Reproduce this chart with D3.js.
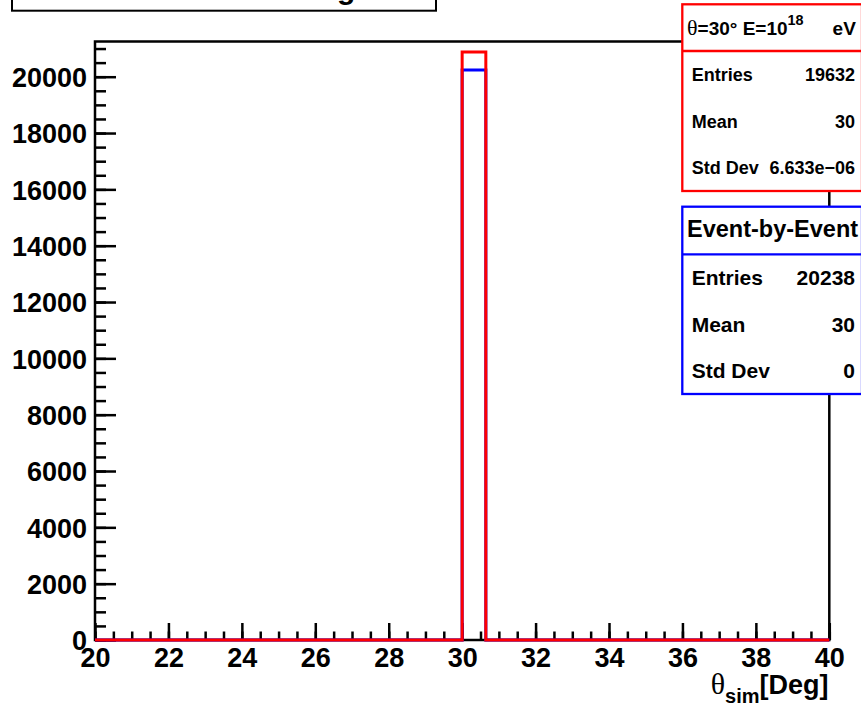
<!DOCTYPE html>
<html>
<head>
<meta charset="utf-8">
<script src="https://cdn.jsdelivr.net/npm/d3@7/dist/d3.min.js"></script>
<style>
  body { margin: 0; background: #fff; }
  svg { display: block; font-family: "Liberation Sans", Arial, Helvetica, sans-serif; font-weight: bold; }
</style>
</head>
<body>
<svg id="chart" width="861" height="706"></svg>
<script>
// histogram bins (edges) and bin contents
const binEdges = [20, 30, 30.645, 40];
const eventByEvent = [0, 20238, 0];
const averaged = [0, 20880, 0];

const xTicks = [20, 22, 24, 26, 28, 30, 32, 34, 36, 38, 40];
const yTicks = [0, 2000, 4000, 6000, 8000, 10000, 12000, 14000, 16000, 18000, 20000];
const xDomain = [20, 40];
const yDomain = [0, 21250];

const redStats = [["Entries", "19632"], ["Mean", "30"], ["Std Dev", "6.633e\u221206"]];
const blueStats = [["Entries", "20238"], ["Mean", "30"], ["Std Dev", "0"]];

const svg = d3.select("#chart");

const x = d3.scaleLinear().domain(xDomain).range([95, 829.3]);
const y = d3.scaleLinear().domain(yDomain).range([640, 41.5]);

// title box (mostly off the top of the canvas)
svg.append("rect")
  .attr("x", 12).attr("y", -50).attr("width", 424).attr("height", 60.7)
  .attr("fill", "#fff").attr("stroke", "#000").attr("stroke-width", 2);
svg.append("text")
  .attr("x", 48).attr("y", -1)
  .attr("font-size", 30)
  .text("Simulated Zenith Angle");

// minor ticks
svg.append("g")
  .attr("transform", "translate(0,640)")
  .call(d3.axisBottom(x).tickValues(d3.range(20, 40.001, 0.5)).tickSize(-8.5).tickFormat(""))
  .call(g => g.select(".domain").remove())
  .call(g => g.selectAll("line").attr("stroke-width", 2.5));
svg.append("g")
  .attr("transform", "translate(95,0)")
  .call(d3.axisLeft(y).tickValues(d3.range(0, 21001, 500)).tickSize(-11).tickFormat(""))
  .call(g => g.select(".domain").remove())
  .call(g => g.selectAll("line").attr("stroke-width", 2.5));

// major ticks + labels
const xAxis = svg.append("g")
  .attr("transform", "translate(0,640)")
  .call(d3.axisBottom(x).tickValues(xTicks).tickSize(-17).tickPadding(8).tickFormat(d3.format("d")))
  .call(g => g.select(".domain").remove());
xAxis.selectAll("line").attr("stroke-width", 2.5);
xAxis.selectAll("text")
  .attr("font-size", 27).attr("fill", "#000");
xAxis.attr("font-family", null).attr("font-size", null);

const yAxis = svg.append("g")
  .attr("transform", "translate(95,0)")
  .call(d3.axisLeft(y).tickValues(yTicks).tickSize(-21).tickPadding(8).tickFormat(d3.format("d")))
  .call(g => g.select(".domain").remove());
yAxis.selectAll("line").attr("stroke-width", 2.5);
yAxis.selectAll("text")
  .attr("font-size", 27).attr("dy", "0.36em").attr("fill", "#000");
yAxis.attr("font-family", null).attr("font-size", null);

// frame
svg.append("rect")
  .attr("x", x(xDomain[0])).attr("y", y(yDomain[1]))
  .attr("width", x(xDomain[1]) - x(xDomain[0]))
  .attr("height", y(yDomain[0]) - y(yDomain[1]))
  .attr("fill", "none").attr("stroke", "#000").attr("stroke-width", 2.5);

// histograms as step outlines
const step = d3.line()
  .x(d => x(d.x))
  .y(d => y(d.y))
  .curve(d3.curveStepAfter);

function histPoints(counts) {
  return binEdges.map((e, i) => ({ x: e, y: i < counts.length ? counts[i] : 0 }));
}

svg.append("path")
  .attr("d", step(histPoints(eventByEvent)))
  .attr("fill", "none").attr("stroke", "#0000ff").attr("stroke-width", 3);
svg.append("path")
  .attr("d", step(histPoints(averaged)))
  .attr("fill", "none").attr("stroke", "#ff0000").attr("stroke-width", 3);

// stats boxes
function statsBox(opt) {
  const g = svg.append("g");
  g.append("rect")
    .attr("x", opt.x0).attr("y", opt.y0)
    .attr("width", opt.x1 - opt.x0).attr("height", opt.y1 - opt.y0)
    .attr("fill", "#fff").attr("stroke", opt.color).attr("stroke-width", 2.3);
  g.append("line")
    .attr("x1", opt.x0).attr("x2", opt.x1)
    .attr("y1", opt.sep).attr("y2", opt.sep)
    .attr("stroke", opt.color).attr("stroke-width", 2.3);
  const rowH = (opt.y1 - opt.sep) / opt.rows.length;
  opt.rows.forEach((r, i) => {
    const by = opt.sep + (i + 0.5) * rowH + 0.37 * opt.fs;
    g.append("text").attr("x", 691.7).attr("y", by).attr("font-size", opt.fs).text(r[0]);
    g.append("text").attr("x", 855).attr("y", by).attr("font-size", opt.fs)
      .attr("text-anchor", "end").text(r[1]);
  });
  return g;
}

const red = statsBox({ x0: 682.3, y0: 4.3, x1: 862, y1: 191, sep: 51, color: "#ff0000", rows: redStats, fs: 18 });
const rh = red.append("text").attr("x", 687).attr("y", 35).attr("font-size", 19);
rh.append("tspan").attr("font-family", "'Liberation Serif', 'Times New Roman', serif").attr("font-weight", "normal").attr("font-size", 22).text("\u03b8");
rh.append("tspan").text("=30\u00b0 E=10");
rh.append("tspan").attr("font-size", 14.4).attr("dy", -10).text("18");
rh.append("tspan").attr("dx", 29).attr("dy", 10).text("eV");

const blue = statsBox({ x0: 682.3, y0: 206.7, x1: 862, y1: 394, sep: 254.3, color: "#0000ff", rows: blueStats, fs: 21 });
blue.append("text").attr("x", 687).attr("y", 236.5).attr("font-size", 23.5).text("Event-by-Event");

// x axis title
const xt = svg.append("text")
  .attr("x", 828.5).attr("y", 694).attr("text-anchor", "end").attr("font-size", 27);
xt.append("tspan").attr("font-family", "'Liberation Serif', 'Times New Roman', serif").attr("font-weight", "normal").attr("font-size", 30).text("\u03b8");
xt.append("tspan").attr("font-size", 20).attr("dy", 9).text("sim");
xt.append("tspan").attr("dy", -9).text("[Deg]");
</script>
</body>
</html>
